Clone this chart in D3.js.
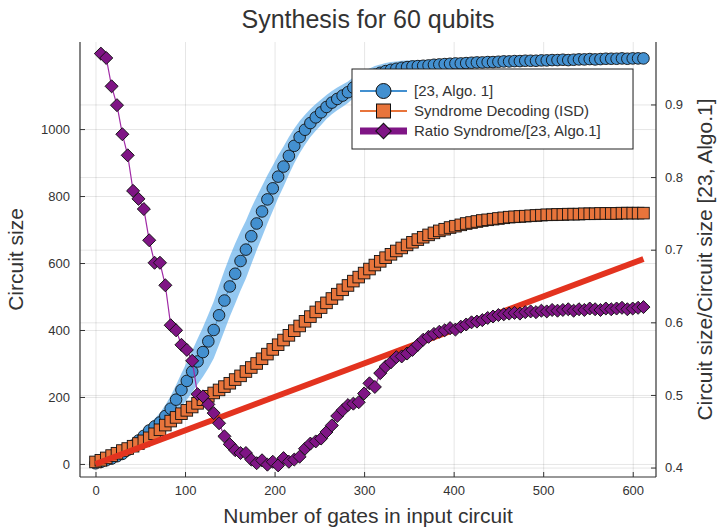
<!DOCTYPE html>
<html>
<head>
<meta charset="utf-8">
<script src="https://cdn.jsdelivr.net/npm/d3@7"></script>
<style>
  body { margin: 0; background: #fff; }
  text { font-family: "Liberation Sans", Arial, sans-serif; fill: #333; }
  .grid line { stroke: #000; stroke-opacity: 0.1; }
  .grid path { display: none; }
  .axis path { display: none; }
  .axis line { stroke: #333; }
</style>
</head>
<body>
<div id="chart"></div>
<script>
// number of gates in input circuit
const gates = [0,6,12,18,24,30,36,42,48,54, 60,66,72,78,84,90,96,102,108,114,
  120,126,132,138,144,150,156,162,168,174, 180,186,192,198,204,210,216,222,228,234,
  240,246,252,258,264,270,276,282,288,294, 300,306,312,318,324,330,336,342,348,354,
  360,366,372,378,384,390,396,402,408,414, 420,426,432,438,444,450,456,462,468,474,
  480,486,492,498,504,510,516,522,528,534, 540,546,552,558,564,570,576,582,588,594,
  600,606,612];

// [23, Algo. 1] circuit size (mean) and spread
const algo1 = [2,6,11,16,23,30,42,55,70,84, 100,112,124,143,165,192,221,248,276,306,
  334,366,400,444,488,530,568,606,640,680, 718,754,790,823,858,888,920,950,976,998,
  1018,1035,1050,1066,1079,1090,1100,1110,1124,1136, 1146,1154,1162,1168,1173,1177,1180,1183,1185,1187,
  1188,1189,1190,1192,1193,1194,1195,1196,1196,1197, 1198,1199,1199,1200,1200,1201,1202,1202,1203,1203,
  1204,1204,1204,1205,1205,1206,1206,1207,1206,1207, 1208,1208,1209,1208,1209,1210,1210,1210,1211,1210,
  1211,1211,1211];
const algo1Err = [2,3,4,5,6,8,10,12,14,16, 19,23,28,33,38,44,50,56,62,68,
  74,80,85,88,90,90,90,88,86,84, 80,76,72,68,64,60,56,52,48,45,
  42,40,38,36,35,34,33,32,31,30, 28,27,26,25,24,23,22,21,20,19,
  18,17,17,16,16,15,15,15,14,14, 14,13,13,13,12,12,12,12,12,12,
  11,11,11,11,11,11,11,11,11,11, 11,10,10,10,10,10,10,10,10,10,
  10,10,10];

// Syndrome Decoding (ISD)
const syndrome = [6,11,18,25,32,40,46,53,61,69, 78,90,102,116,128,139,150,160,170,181,
  192,202,212,221,231,241,252,263,276,288, 300,314,328,342,356,370,384,398,412,426,
  440,454,467,481,494,507,520,533,546,558, 570,582,594,605,616,626,636,645,654,662,
  670,677,684,690,696,701,706,710,714,718, 721,724,727,729,731,733,735,737,738,739,
  740,741,742,743,744,744,745,745,746,746, 746,747,747,747,748,748,748,748,749,749,
  749,749,749];

// ratio Syndrome/[23, Algo.1], starts at 6 gates
const ratioGates = gates.slice(1);
const ratio = [0.970,0.964,0.925,0.899,0.859,0.830,0.781,0.770,0.756,0.713,
  0.682,0.682,0.651,0.596,0.589,0.569,0.562,0.547,0.501,0.498,
  0.487,0.475,0.461,0.443,0.432,0.424,0.420,0.420,0.411,0.406,
  0.410,0.404,0.408,0.403,0.413,0.408,0.411,0.415,0.426,0.433,
  0.436,0.440,0.449,0.458,0.471,0.479,0.486,0.488,0.490,0.502,
  0.516,0.511,0.530,0.539,0.545,0.552,0.553,0.557,0.562,0.569,
  0.576,0.580,0.584,0.587,0.589,0.592,0.590,0.594,0.597,0.600,
  0.601,0.603,0.606,0.608,0.610,0.611,0.612,0.613,0.612,0.614,
  0.615,0.614,0.616,0.615,0.617,0.616,0.617,0.618,0.616,0.618,
  0.617,0.619,0.618,0.617,0.619,0.618,0.619,0.620,0.618,0.619,
  0.620,0.621];

// reference line: output size = input size
const refX = [0, 612];
const refY = [0, 612];

const xTicks = [0, 100, 200, 300, 400, 500, 600];
const yTicks = [0, 200, 400, 600, 800, 1000];
const y2Ticks = [0.4, 0.5, 0.6, 0.7, 0.8, 0.9];

const legendLabels = ["[23, Algo. 1]", "Syndrome Decoding (ISD)", "Ratio Syndrome/[23, Algo.1]"];

const blue = "#4390d0", orange = "#e8743b", purple = "#7f1585", red = "#e3331f";

const width = 717, height = 531;
const margin = {top: 42, right: 61, bottom: 54, left: 80};
const bottom = height - margin.bottom, right = width - margin.right;

const svg = d3.select("#chart").append("svg")
    .attr("width", width)
    .attr("height", height);

const x = d3.scaleLinear().domain([-17.3, 626]).range([margin.left, right]);
const y = d3.scaleLinear().domain([-39, 1260]).range([bottom, margin.top]);
const y2 = d3.scaleLinear().domain([0.387, 0.986]).range([bottom, margin.top]);

svg.append("clipPath").attr("id", "clip")
  .append("rect")
    .attr("x", margin.left).attr("y", margin.top)
    .attr("width", right - margin.left).attr("height", bottom - margin.top);

// grids
svg.append("g").attr("class", "grid")
    .attr("transform", `translate(0,${bottom})`)
    .call(d3.axisBottom(x).tickValues(xTicks).tickSize(-(bottom - margin.top)).tickFormat(""));
svg.append("g").attr("class", "grid")
    .attr("transform", `translate(${margin.left},0)`)
    .call(d3.axisLeft(y).tickValues(yTicks).tickSize(-(right - margin.left)).tickFormat(""));
svg.append("g").attr("class", "grid")
    .attr("transform", `translate(${margin.left},0)`)
    .call(d3.axisLeft(y2).tickValues(y2Ticks).tickSize(-(right - margin.left)).tickFormat(""));

const plot = svg.append("g").attr("clip-path", "url(#clip)");

// [23, Algo. 1] ribbon, line, markers
plot.append("path")
    .datum(gates.map((g, i) => i))
    .attr("fill", "#3d9be6")
    .attr("fill-opacity", 0.55)
    .attr("d", d3.area()
        .x(i => x(gates[i]))
        .y0(i => y(algo1[i] - algo1Err[i]))
        .y1(i => y(algo1[i] + algo1Err[i])));

plot.append("path")
    .datum(gates.map((g, i) => [g, algo1[i]]))
    .attr("fill", "none").attr("stroke", blue).attr("stroke-width", 1)
    .attr("d", d3.line().x(d => x(d[0])).y(d => y(d[1])));

plot.selectAll(".c1")
    .data(gates.map((g, i) => [g, algo1[i]]))
    .enter().append("circle")
    .attr("cx", d => x(d[0]))
    .attr("cy", d => y(d[1]))
    .attr("r", 5.8)
    .attr("fill", blue)
    .attr("stroke", "#111")
    .attr("stroke-width", 0.9);

// Syndrome decoding
plot.append("path")
    .datum(gates.map((g, i) => [g, syndrome[i]]))
    .attr("fill", "none").attr("stroke", orange).attr("stroke-width", 1)
    .attr("d", d3.line().x(d => x(d[0])).y(d => y(d[1])));

plot.selectAll(".sq")
    .data(gates.map((g, i) => [g, syndrome[i]]))
    .enter().append("rect")
    .attr("x", d => x(d[0]) - 5.8)
    .attr("y", d => y(d[1]) - 5.8)
    .attr("width", 11.6)
    .attr("height", 11.6)
    .attr("fill", orange)
    .attr("stroke", "#111")
    .attr("stroke-width", 0.9);

// reference line
plot.append("path")
    .datum(refX.map((v, i) => [v, refY[i]]))
    .attr("fill", "none").attr("stroke", red).attr("stroke-width", 6)
    .attr("d", d3.line().x(d => x(d[0])).y(d => y(d[1])));

// ratio on right axis
plot.append("path")
    .datum(ratioGates.map((g, i) => [g, ratio[i]]))
    .attr("fill", "none").attr("stroke", "#a02aa6").attr("stroke-width", 1.2)
    .attr("d", d3.line().x(d => x(d[0])).y(d => y2(d[1])));

const diamond = d3.symbol(d3.symbolSquare, 85);
plot.selectAll(".dm")
    .data(ratioGates.map((g, i) => [g, ratio[i]]))
    .enter().append("path")
    .attr("d", diamond)
    .attr("transform", d => `translate(${x(d[0])},${y2(d[1])}) rotate(45)`)
    .attr("fill", purple)
    .attr("stroke", "#111")
    .attr("stroke-width", 0.9);

// axes, ticks pointing inward
svg.append("g").attr("class", "axis")
    .attr("transform", `translate(0,${bottom})`)
    .call(d3.axisBottom(x).tickValues(xTicks).tickSize(-5).tickPadding(9));
svg.append("g").attr("class", "axis")
    .attr("transform", `translate(${margin.left},0)`)
    .call(d3.axisLeft(y).tickValues(yTicks).tickSize(-5).tickPadding(10).tickFormat(d3.format("d")));
svg.append("g").attr("class", "axis")
    .attr("transform", `translate(${right},0)`)
    .call(d3.axisRight(y2).tickValues(y2Ticks).tickSize(-5).tickPadding(9).tickFormat(d3.format(".1f")));
svg.selectAll(".axis text").style("font-size", "13px").style("font-family", "Liberation Sans, Arial, sans-serif").attr("fill", "#333");

const frame = svg.append("g").attr("stroke", "#333").attr("stroke-width", 1.2);
frame.append("line").attr("x1", margin.left).attr("x2", margin.left).attr("y1", margin.top).attr("y2", bottom);
frame.append("line").attr("x1", right).attr("x2", right).attr("y1", margin.top).attr("y2", bottom);
frame.append("line").attr("x1", margin.left).attr("x2", right).attr("y1", bottom).attr("y2", bottom);

// titles
svg.append("text")
    .attr("x", (margin.left + right) / 2).attr("y", 28)
    .attr("text-anchor", "middle")
    .style("font-size", "25px")
    .text("Synthesis for 60 qubits");

svg.append("text")
    .attr("x", (margin.left + right) / 2).attr("y", 523)
    .attr("text-anchor", "middle")
    .style("font-size", "21px")
    .text("Number of gates in input circuit");

svg.append("text")
    .attr("transform", `translate(23,${(margin.top + bottom) / 2}) rotate(-90)`)
    .attr("text-anchor", "middle")
    .style("font-size", "21px")
    .text("Circuit size");

svg.append("text")
    .attr("transform", `translate(712,${(margin.top + bottom) / 2}) rotate(-90)`)
    .attr("text-anchor", "middle")
    .style("font-size", "21px")
    .text("Circuit size/Circuit size [23, Algo.1]");

// legend
const legend = svg.append("g");
legend.append("rect")
    .attr("x", 352).attr("y", 69).attr("width", 281).attr("height", 80)
    .attr("fill", "#fff").attr("stroke", "#222").attr("stroke-width", 1);

const items = legend.selectAll(".item")
    .data(legendLabels)
    .enter().append("g")
    .attr("transform", (d, i) => `translate(0,${91 + i * 20})`);

items.append("line")
    .attr("x1", 360).attr("x2", 407)
    .attr("stroke", (d, i) => [blue, orange, purple][i])
    .attr("stroke-width", (d, i) => i === 2 ? 7 : 2);

items.each(function(d, i) {
  const g = d3.select(this);
  if (i === 0) {
    g.append("circle").attr("cx", 383.5).attr("r", 7.5)
        .attr("fill", blue).attr("stroke", "#111").attr("stroke-width", 1);
  } else if (i === 1) {
    g.append("rect").attr("x", 376.5).attr("y", -7).attr("width", 14).attr("height", 14)
        .attr("fill", orange).attr("stroke", "#111").attr("stroke-width", 1);
  } else {
    g.append("path").attr("d", d3.symbol(d3.symbolSquare, 120))
        .attr("transform", "translate(383.5,0) rotate(45)")
        .attr("fill", purple).attr("stroke", "#111").attr("stroke-width", 1);
  }
});

items.append("text")
    .attr("x", 414).attr("dy", "0.35em")
    .style("font-size", "15px")
    .text(d => d);
</script>
</body>
</html>
